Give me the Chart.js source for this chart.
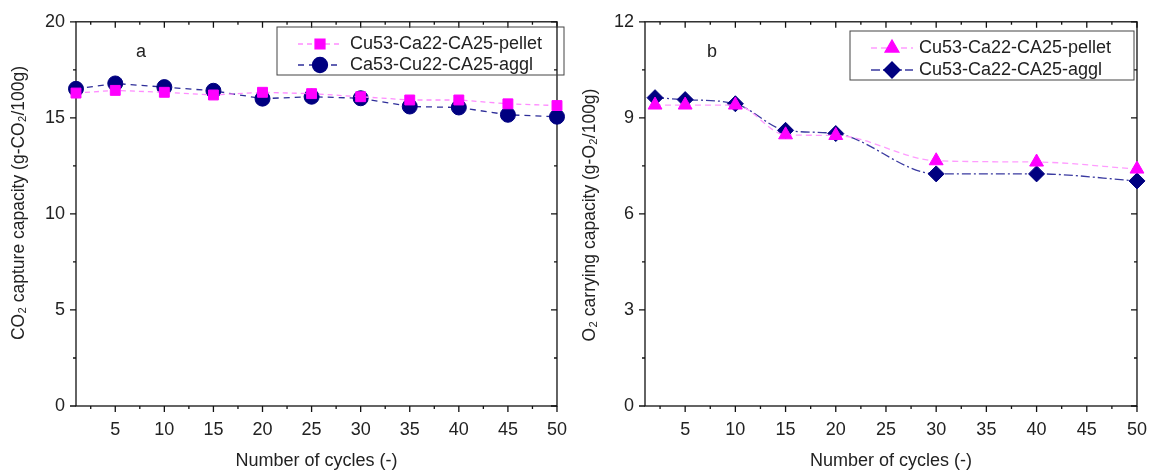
<!DOCTYPE html>
<html>
<head>
<meta charset="utf-8">
<script src="https://cdn.jsdelivr.net/npm/chart.js@4.4.1/dist/chart.umd.min.js"></script>
<style>
  body { margin: 0; background: #fff; }
  .panel { position: absolute; top: 0; }
</style>
</head>
<body>
<div class="panel" style="left:0"><canvas id="co2Chart" width="580" height="471"></canvas></div>
<div class="panel" style="left:580px"><canvas id="o2Chart" width="580" height="471"></canvas></div>
<script>
// CO2 capture per cycle (panel a)
const cyclesCO2 = [1, 5, 10, 15, 20, 25, 30, 35, 40, 45, 50];
const pelletCO2 = [16.29, 16.43, 16.33, 16.19, 16.33, 16.26, 16.10, 15.93, 15.93, 15.73, 15.64];
const agglCO2 = [16.51, 16.79, 16.60, 16.41, 16.00, 16.10, 16.02, 15.59, 15.54, 15.16, 15.06];

// O2 carrying capacity per cycle (panel b)
const cyclesO2 = [2, 5, 10, 15, 20, 30, 40, 50];
const pelletO2 = [9.40, 9.40, 9.40, 8.47, 8.45, 7.66, 7.62, 7.40];
const agglO2 = [9.63, 9.57, 9.44, 8.61, 8.51, 7.25, 7.25, 7.03];

// axis ticks
const xTicks = [5, 10, 15, 20, 25, 30, 35, 40, 45, 50];
const xMinor = [2.5, 7.5, 12.5, 17.5, 22.5, 27.5, 32.5, 37.5, 42.5, 47.5];
const yTicksCO2 = [0, 5, 10, 15, 20];
const yMinorCO2 = [2.5, 7.5, 12.5, 17.5];
const yTicksO2 = [0, 3, 6, 9, 12];
const yMinorO2 = [1.5, 4.5, 7.5, 10.5];

const FONT = "Liberation Sans, Arial, sans-serif";
const TEXT = "#222";
const PINK = "#ff00ff";
const NAVY = "#000080";

// frame, mirrored ticks, legend, panel letter and y title
function decorations(cfg) {
  return {
    id: "decor",
    beforeDatasetsDraw(chart) {
      const { ctx, chartArea: a, scales } = chart;
      const xs = scales.x, ys = scales.y;
      ctx.save();
      ctx.strokeStyle = "#111";
      ctx.lineWidth = 1.3;
      ctx.strokeRect(a.left, a.top, a.right - a.left, a.bottom - a.top);
      ctx.beginPath();
      const tick = (vals, len) => {
        vals.forEach(v => {
          const px = xs.getPixelForValue(v);
          ctx.moveTo(px, a.bottom); ctx.lineTo(px, a.bottom + len);
          ctx.moveTo(px, a.top); ctx.lineTo(px, a.top + len);
        });
      };
      tick(xTicks, 6);
      tick(xMinor, 3);
      const ytick = (vals, len) => {
        vals.forEach(v => {
          const py = ys.getPixelForValue(v);
          ctx.moveTo(a.left, py); ctx.lineTo(a.left - len, py);
          ctx.moveTo(a.right, py); ctx.lineTo(a.right - len, py);
        });
      };
      ytick(cfg.yTicks, 6);
      ytick(cfg.yMinor, 3);
      ctx.stroke();
      ctx.restore();
    },
    afterDraw(chart) {
      const { ctx } = chart;
      ctx.save();
      ctx.fillStyle = TEXT;
      ctx.font = "18px " + FONT;
      ctx.textBaseline = "middle";
      ctx.fillText(cfg.letter[0], cfg.letter[1], cfg.letter[2]);

      // y axis title
      ctx.save();
      ctx.font = "17.5px " + FONT;
      ctx.translate(cfg.yTitle[1], cfg.yTitle[2]);
      ctx.rotate(-Math.PI / 2);
      ctx.textAlign = "center";
      ctx.fillText(cfg.yTitle[0], 0, 0);
      ctx.restore();

      // legend
      const L = cfg.legend;
      ctx.strokeStyle = "#444";
      ctx.lineWidth = 1;
      ctx.strokeRect(L.x, L.y, L.w, L.h);
      chart.data.datasets.forEach((ds, i) => {
        const y = L.rows[i];
        ctx.save();
        ctx.strokeStyle = ds.borderColor;
        ctx.lineWidth = ds.borderWidth;
        ctx.setLineDash(ds.borderDash);
        ctx.beginPath();
        ctx.moveTo(L.x0, y); ctx.lineTo(L.x1, y);
        ctx.stroke();
        ctx.setLineDash([]);
        ctx.fillStyle = ds.pointBackgroundColor;
        ctx.strokeStyle = ds.pointBorderColor;
        Chart.helpers.drawPoint(ctx, {
          pointStyle: ds.pointStyle, radius: ds.pointRadius, rotation: 0, borderWidth: 1
        }, (L.x0 + L.x1) / 2, y);
        ctx.restore();
        ctx.fillStyle = TEXT;
        ctx.font = "18px " + FONT;
        ctx.textAlign = "left";
        ctx.fillText(ds.label, L.tx, y);
      });
      ctx.restore();
    }
  };
}

function series(label, xs, ys, color, lineColor, dash, style, r, smooth) {
  return {
    label,
    data: xs.map((x, i) => ({ x, y: ys[i] })),
    borderColor: lineColor,
    borderWidth: 1.3,
    borderDash: dash,
    pointStyle: style,
    pointRadius: r,
    pointBackgroundColor: color,
    pointBorderColor: color,
    pointBorderWidth: 1,
    tension: smooth ? 0.4 : 0,
    cubicInterpolationMode: smooth ? "monotone" : "default",
    clip: false
  };
}

function makeChart(id, cfg) {
  return new Chart(document.getElementById(id), {
    type: "line",
    data: { datasets: cfg.datasets },
    options: {
      responsive: false,
      animation: false,
      events: [],
      layout: { padding: { top: 18, right: cfg.padRight, left: 0, bottom: 0 } },
      plugins: { legend: { display: false }, tooltip: { enabled: false } },
      scales: {
        x: {
          type: "linear",
          min: 1,
          max: 50,
          afterBuildTicks: s => { s.ticks = xTicks.map(v => ({ value: v })); },
          afterFit: s => { s.height = 65; },
          grid: { display: false, drawTicks: false },
          border: { display: false },
          ticks: { color: TEXT, font: { family: FONT, size: 18 }, padding: 13, maxRotation: 0 },
          title: { display: true, text: "Number of cycles (-)", color: TEXT,
                   font: { family: FONT, size: 18 }, padding: { top: 0, bottom: -1 } }
        },
        y: {
          min: 0,
          max: cfg.yMax,
          afterBuildTicks: s => { s.ticks = cfg.yTicks.map(v => ({ value: v })); },
          afterFit: s => { s.width = cfg.yWidth; },
          grid: { display: false, drawTicks: false },
          border: { display: false },
          ticks: { color: TEXT, font: { family: FONT, size: 18 }, padding: 11 }
        }
      }
    },
    plugins: [decorations(cfg)]
  });
}

makeChart("co2Chart", {
  yMax: 20,
  yTicks: yTicksCO2,
  yMinor: yMinorCO2,
  yWidth: 76,
  padRight: 10,
  letter: ["a", 136, 52],
  yTitle: ["CO₂ capture capacity (g-CO₂/100g)", 19, 203],
  legend: { x: 277, y: 27, w: 287, h: 48, rows: [44, 65], x0: 298, x1: 342, tx: 350 },
  datasets: [
    series("Cu53-Ca22-CA25-pellet", cyclesCO2, pelletCO2, PINK, "#ff8cff", [5, 4], "rect", 7, false),
    series("Ca53-Cu22-CA25-aggl", cyclesCO2, agglCO2, NAVY, "#2e2e99", [6, 5], "circle", 7.5, false)
  ]
});

makeChart("o2Chart", {
  yMax: 12,
  yTicks: yTicksO2,
  yMinor: yMinorO2,
  yWidth: 65,
  padRight: 18,
  letter: ["b", 127, 52],
  yTitle: ["O₂ carrying capacity (g-O₂/100g)", 10, 215],
  legend: { x: 270, y: 31, w: 284, h: 49, rows: [48, 70], x0: 291, x1: 333, tx: 339 },
  datasets: [
    series("Cu53-Ca22-CA25-pellet", cyclesO2, pelletO2, PINK, "#ff9cff", [6, 4], "triangle", 8, true),
    series("Cu53-Ca22-CA25-aggl", cyclesO2, agglO2, NAVY, "#3a3aa0", [9, 3, 2, 3], "rectRot", 8, true)
  ]
});
</script>
</body>
</html>
